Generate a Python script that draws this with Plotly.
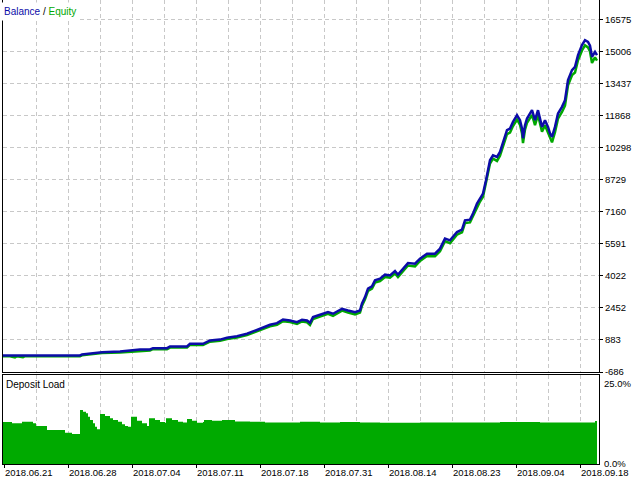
import plotly.graph_objects as go

# ---- data (x = sample index along the time axis) ----
bal_idx = [0,7,12,14,20,22,37,57,77,79,89,99,117,130,137,147,150,164,167,184,187,200,207,217,224,234,244,250,260,267,274,280,287,294,299,304,307,310,317,325,330,339,345,352,357,359,362,365,369,372,377,382,387,392,395,400,405,412,417,424,432,437,442,447,450,454,459,462,467,470,474,477,480,483,485,487,490,494,497,500,504,507,510,514,517,519,520,522,524,529,532,535,539,542,545,547,549,552,555,559,562,565,569,572,575,579,582,585,587,589,592,594]
balance = [125,125,125,125,125,125,125,123,125,172,236,285,319,368,417,417,481,481,564,564,697,697,858,900,991,1069,1187,1300,1511,1628,1707,1888,1839,1756,1873,1839,1726,2001,2118,2246,2168,2413,2329,2246,2329,2673,2981,3393,3506,3800,3884,4080,4045,4256,4080,4374,4649,4619,4864,5109,5109,5355,5845,5761,5923,6168,6286,6742,6776,7071,7561,7806,8051,8703,9277,9684,9929,9846,10091,10503,11155,11238,11562,11890,11645,11238,10762,11400,11728,12135,11645,12135,11317,11645,11317,11000,10826,11317,11974,12297,12626,13606,14097,14258,14832,15322,15567,15484,15300,14749,14994,14832]
equity = [90,88,30,85,40,88,85,83,85,130,190,240,275,320,370,370,430,430,510,510,640,640,800,840,930,1000,1120,1230,1440,1550,1630,1800,1760,1670,1790,1750,1620,1910,2030,2160,2060,2320,2230,2130,2230,2560,2870,3280,3400,3690,3770,3970,3930,4140,3960,4260,4530,4480,4750,4990,4980,5230,5720,5620,5800,6040,6150,6610,6640,6940,7420,7660,7900,8550,9110,9520,9760,9650,9910,10320,10960,11040,11360,11680,11420,11000,10520,11180,11510,11900,11400,11900,11080,11400,11060,10750,10560,11060,11720,12050,12360,13350,13850,13980,14580,15060,15310,15210,15010,14450,14720,14560]

load_idx = [0,9,19,30,33,44,62,69,77,80,83,85,87,90,92,94,97,102,107,110,115,119,122,125,128,134,139,144,146,152,157,162,163,169,175,180,184,189,194,200,201,209,219,232,247,262,287,297,317,337,357,377,417,467,497,537,567,592,594]
deposit_load = [11.7,11.4,11.8,11.4,10.6,9.5,8.7,8.4,15.1,14.6,14.2,13.2,12.3,11.4,10.4,9.7,14.0,13.4,12.8,12.3,11.8,11.1,10.6,10.4,13.2,12.1,11.4,10.6,12.8,12.3,11.7,11.5,12.8,12.3,11.8,11.6,12.6,12.1,11.5,11.7,12.3,12.1,12.3,11.9,11.8,11.6,11.6,11.8,11.6,11.7,11.6,11.5,11.6,11.6,11.7,11.6,11.6,12.0,12.0]

y_ticks = [-686, 883, 2452, 4022, 5591, 7160, 8729, 10298, 11868, 13437, 15006, 16575]
date_pos = [1, 65, 129, 193, 257, 321, 385, 449, 513, 577]
date_labels = ["2018.06.21", "2018.06.28", "2018.07.04", "2018.07.11", "2018.07.18",
               "2018.07.31", "2018.08.14", "2018.08.23", "2018.09.04", "2018.09.18"]
grid_pos = list(range(1, 596, 32))
minor_pos = [p for p in grid_pos if p not in date_pos]

BLUE = "#0c0ca8"
GREEN = "#00a800"
FILL = "#00aa00"
GRID = "#c8c8c8"
FONT = "Liberation Sans"

fig = go.Figure()
fig.add_trace(go.Scatter(x=bal_idx, y=equity, mode="lines", line=dict(color=GREEN, width=2.5),
                         xaxis="x", yaxis="y", hoverinfo="skip"))
fig.add_trace(go.Scatter(x=bal_idx, y=balance, mode="lines", line=dict(color=BLUE, width=2.5),
                         xaxis="x", yaxis="y", hoverinfo="skip"))
fig.add_trace(go.Scatter(x=load_idx, y=deposit_load, mode="lines", line=dict(color=FILL, width=0, shape="hv"),
                         fill="tozeroy", fillcolor=FILL, xaxis="x2", yaxis="y2", hoverinfo="skip"))

top_bottom = (464 - 372) / 464
low_top = (464 - 374.5) / 464

fig.update_layout(
    width=640, height=480,
    margin=dict(l=3, r=41, t=0, b=16),
    paper_bgcolor="white", plot_bgcolor="white",
    showlegend=False,
    font=dict(family=FONT, size=9, color="black"),
    xaxis=dict(domain=[0, 1], range=[0, 596], anchor="y", tickmode="array", tickvals=grid_pos,
               showticklabels=False, ticks="", showgrid=True, gridcolor=GRID, griddash="4px,3px",
               gridwidth=1, showline=True, linecolor="black", linewidth=1, zeroline=False),
    yaxis=dict(domain=[top_bottom, 1], range=[-686, 17531], side="right", tickmode="array",
               tickvals=y_ticks, ticktext=[str(v) for v in y_ticks], ticks="outside", ticklen=3,
               tickcolor="black", showgrid=True, gridcolor=GRID, griddash="4px,3px", gridwidth=1,
               showline=True, mirror=True, linecolor="black", linewidth=1, zeroline=False,
               tickfont=dict(family=FONT, size=9.5)),
    xaxis2=dict(domain=[0, 1], range=[0, 596], anchor="y2", tickmode="array", tickvals=date_pos,
                ticktext=date_labels, ticklabelposition="outside right", ticks="outside", ticklen=3,
                tickcolor="black", showgrid=True, gridcolor=GRID, griddash="4px,3px", gridwidth=1,
                minor=dict(tickmode="array", tickvals=minor_pos, showgrid=True, gridcolor=GRID,
                           griddash="4px,3px", ticks=""),
                showline=True, mirror=True, linecolor="black", linewidth=1, zeroline=False,
                tickfont=dict(family=FONT, size=9.5)),
    yaxis2=dict(domain=[0, low_top], range=[0, 25], showticklabels=False, ticks="", showgrid=False,
                showline=True, mirror=True, linecolor="black", linewidth=1, zeroline=False),
)

fig.add_annotation(xref="paper", yref="paper", x=0, y=1, xanchor="left", yanchor="top",
                   xshift=-3, yshift=-2, showarrow=False, bgcolor="white", borderpad=3,
                   text=f'<span style="color:{BLUE}">Balance</span> / <span style="color:{GREEN}">Equity</span>',
                   font=dict(family=FONT, size=10, color="black"))
fig.add_annotation(xref="paper", yref="paper", x=0, y=low_top, xanchor="left", yanchor="top",
                   xshift=1, yshift=-2, showarrow=False, text="Deposit Load",
                   font=dict(family=FONT, size=10, color="black"))
fig.add_annotation(xref="paper", yref="paper", x=1, y=low_top, xanchor="left", yanchor="top",
                   xshift=3, yshift=-1, showarrow=False, text="25.0%",
                   font=dict(family=FONT, size=9.5, color="black"))
fig.add_annotation(xref="paper", yref="paper", x=1, y=0, xanchor="left", yanchor="middle",
                   xshift=3, yshift=1, showarrow=False, text="0.0%",
                   font=dict(family=FONT, size=9.5, color="black"))

fig.write_html("out.html", config={"displayModeBar": False},
               post_script="document.body.style.margin='0';document.body.style.overflow='hidden';")
